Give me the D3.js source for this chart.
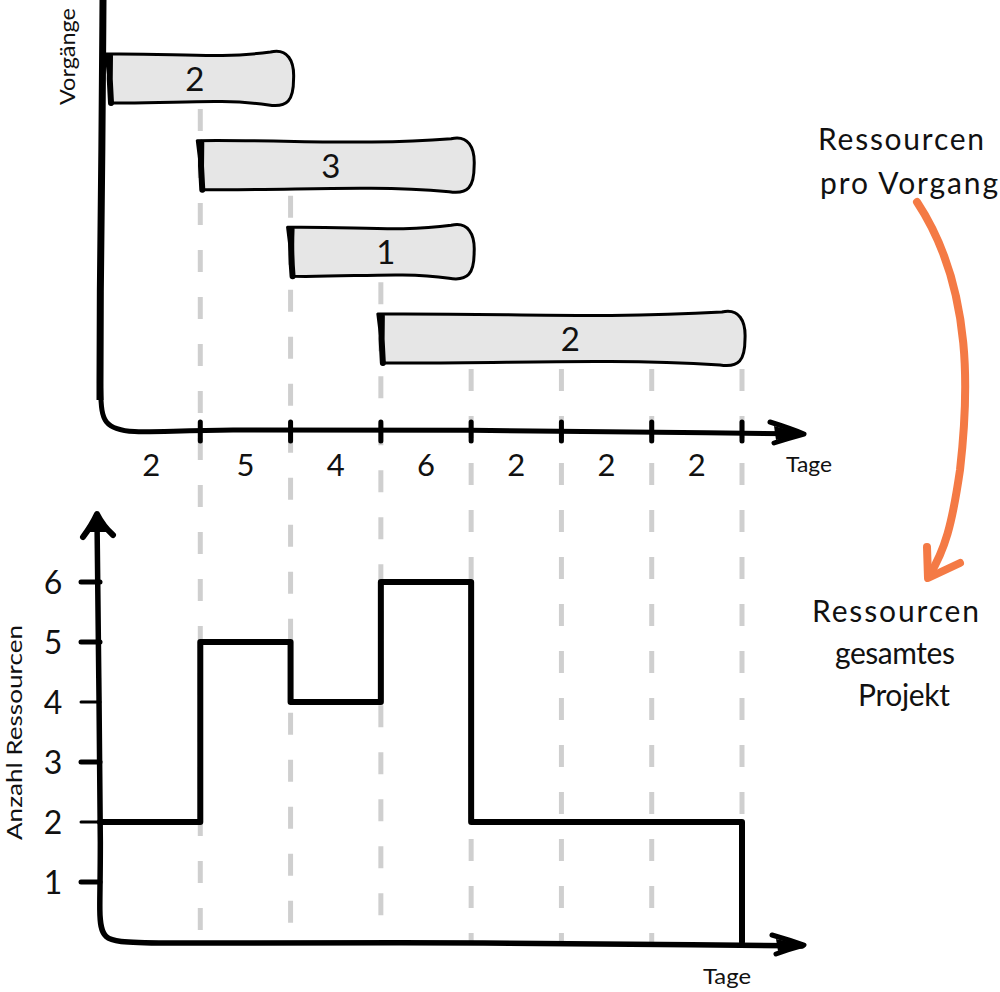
<!DOCTYPE html>
<html><head><meta charset="utf-8">
<script src="https://cdn.jsdelivr.net/npm/d3@7"></script>
<style>
html,body{margin:0;padding:0;background:#fff;}
svg{display:block;}
text{font-family:Lato,"Open Sans",sans-serif;fill:#111;}
</style></head>
<body>
<svg id="c" width="1000" height="992"></svg>
<script>
// ---- data ----
const tasks = ["A","B","C","D"];
const taskStart = [0,1,2,3];
const taskEnd = [2,4,4,7];
const taskRes = [2,3,1,2];
const periods = [0,1,2,3,4,5,6];
const totals = [2,5,4,6,2,2,2];
const yTicks = [1,2,3,4,5,6];
const labelTopY = "Vorgänge";
const labelBottomY = "Anzahl Ressourcen";
const labelX = "Tage";
const noteTop = ["Ressourcen","pro Vorgang"];
const noteBottom = ["Ressourcen","gesamtes","Projekt"];

// ---- layout ----
const svg = d3.select("#c");
const x = d3.scaleLinear().domain([0,7]).range([110,742]);
const row = d3.scalePoint().domain(tasks).range([79,339]);
const barH = 52;
const topAxisY = 432;
const yB = d3.scaleLinear().domain([0,6]).range([942,582]);
const leftTop = 101, leftBot = 100;

// ---- dashed guide lines ----
const bounds = d3.range(1,8);
const guides = svg.append("g");
bounds.forEach(t=>{
  let lowest = -1;
  tasks.forEach((k,i)=>{ if(taskStart[i] < t && t <= taskEnd[i]) lowest = i; });
  const y0 = row(tasks[lowest]) + barH/2 + 4;
  guides.append("line")
    .attr("x1",x(t)).attr("x2",x(t))
    .attr("y1",y0).attr("y2",yB(0))
    .attr("stroke","#cfcfcf").attr("stroke-width",5)
    .attr("stroke-dasharray","22 25");
});

// ---- top axes ----
const line = d3.line().curve(d3.curveBasis);
svg.append("path")
  .attr("d", line([[leftTop+2,0],[leftTop+1,150],[leftTop-1,300],[leftTop-1,400],[leftTop+2,424],[leftTop+25,topAxisY+2],[x(1),topAxisY-3],[x(4),topAxisY-2],[x(7),topAxisY+1],[x(7)+60,topAxisY+2]]))
  .attr("fill","none").attr("stroke","#000").attr("stroke-width",5).attr("stroke-linecap","round");
svg.append("path")
  .attr("d", line([[leftTop+2,0],[leftTop+1,150],[leftTop-1,300],[leftTop-1,400]]))
  .attr("fill","none").attr("stroke","#000").attr("stroke-width",7);
const ax = x(7)+62;
svg.append("path")
  .attr("d",`M${ax-34},${topAxisY-10} Q${ax-15},${topAxisY-4} ${ax},${topAxisY+2} Q${ax-15},${topAxisY+6} ${ax-30},${topAxisY+11}`)
  .attr("fill","none").attr("stroke","#000").attr("stroke-width",5).attr("stroke-linecap","round").attr("stroke-linejoin","round");
svg.append("path")
  .attr("d",`M${ax-30},${topAxisY-6} L${ax},${topAxisY+2} L${ax-28},${topAxisY+8} Z`).attr("fill","#000");
svg.append("g").selectAll("line").data(bounds).join("line")
  .attr("x1",d=>x(d)).attr("x2",d=>x(d))
  .attr("y1",topAxisY-10).attr("y2",topAxisY+9)
  .attr("stroke","#000").attr("stroke-width",5).attr("stroke-linecap","round");
svg.append("g").selectAll("text").data(periods).join("text")
  .attr("x",d=>x(d+0.5)+(d===0?-4:0)).attr("y",topAxisY+44)
  .attr("text-anchor","middle").attr("font-size",31)
  .text(d=>totals[d]);
svg.append("text").attr("x",786).attr("y",topAxisY+40)
  .attr("font-size",22).attr("textLength",46).attr("lengthAdjust","spacingAndGlyphs").text(labelX);
svg.append("text").attr("transform",`translate(75,105) rotate(-90)`)
  .attr("font-size",21).attr("textLength",97).attr("lengthAdjust","spacingAndGlyphs").text(labelTopY);

// ---- bars ----
const bars = svg.append("g");
tasks.forEach((k,i)=>{
  const x0 = x(taskStart[i]) + (i===0?-1:0), x1 = x(taskEnd[i]) + 2;
  const yc = row(k), y0 = yc - barH/2, y1 = yc + barH/2;
  const w = x1 - x0;
  const p = d3.path();
  p.moveTo(x0-3, y0+1);
  p.bezierCurveTo(x0+w*0.35, y0, x0+w*0.6, y0+6, x1-22, y0-1);
  p.bezierCurveTo(x1-5, y0-5, x1+2, y0+8, x1+1, yc);
  p.bezierCurveTo(x1+1, y1-5, x1-5, y1+3, x1-24, y1);
  p.bezierCurveTo(x0+w*0.6, y1-7, x0+w*0.35, y1-1, x0+3, y1-2);
  p.closePath();
  bars.append("path").attr("d",p.toString())
    .attr("fill","#e6e6e6").attr("stroke","#000").attr("stroke-width",3).attr("stroke-linejoin","round");
  bars.append("path").attr("d",`M${x0+1},${y0+3} Q${x0},${yc} ${x0+2},${y1-2}`)
    .attr("fill","none").attr("stroke","#000").attr("stroke-width",6).attr("stroke-linecap","round");
  bars.append("text").attr("x",(x0+x1)/2 - (i===0?6:(i===1?6:(i===2?-4:-8)))).attr("y",yc+12)
    .attr("text-anchor","middle").attr("font-size",33).text(taskRes[i]);
});

// ---- bottom chart ----
const botAxisY = yB(0)+2;
svg.append("path")
  .attr("d", line([[leftBot-3,518],[leftBot-1,700],[leftBot+1,860],[leftBot-1,915],[leftBot+2,botAxisY-4],[leftBot+30,botAxisY],[x(3),botAxisY-2],[x(7),botAxisY+1],[x(7)+60,botAxisY+2]]))
  .attr("fill","none").attr("stroke","#000").attr("stroke-width",5.5).attr("stroke-linecap","round");
svg.append("path")
  .attr("d",`M${leftBot-17},${537} Q${leftBot-8},${525} ${leftBot-3},${514} Q${leftBot+3},${526} ${leftBot+13},${535}`)
  .attr("fill","none").attr("stroke","#000").attr("stroke-width",6).attr("stroke-linecap","round").attr("stroke-linejoin","round");
svg.append("path")
  .attr("d",`M${leftBot-12},${532} L${leftBot-3},${514} L${leftBot+8},${532} Z`).attr("fill","#000");
const bx = x(7)+62;
svg.append("path")
  .attr("d",`M${bx-32},${botAxisY-9} Q${bx-15},${botAxisY-4} ${bx},${botAxisY+1} Q${bx-15},${botAxisY+5} ${bx-28},${botAxisY+10}`)
  .attr("fill","none").attr("stroke","#000").attr("stroke-width",5).attr("stroke-linecap","round").attr("stroke-linejoin","round");
svg.append("path")
  .attr("d",`M${bx-28},${botAxisY-5} L${bx},${botAxisY+1} L${bx-26},${botAxisY+7} Z`).attr("fill","#000");
svg.append("g").selectAll("line").data(yTicks).join("line")
  .attr("x1",leftBot-19).attr("x2",leftBot)
  .attr("y1",d=>yB(d)).attr("y2",d=>yB(d))
  .attr("stroke","#000").attr("stroke-width",d=>(d===2||d===4)?3:5).attr("stroke-linecap","round");
svg.append("g").selectAll("text").data(yTicks).join("text")
  .attr("x",leftBot-47).attr("y",d=>yB(d)+12)
  .attr("text-anchor","middle").attr("font-size",32).text(d=>d);
svg.append("text").attr("transform",`translate(22,840) rotate(-90)`)
  .attr("font-size",21).attr("textLength",215).attr("lengthAdjust","spacingAndGlyphs").text(labelBottomY);
svg.append("text").attr("x",703).attr("y",984)
  .attr("font-size",22).attr("textLength",48).attr("lengthAdjust","spacingAndGlyphs").text(labelX);

// step line
const stepData = periods.map(p=>[p,totals[p]]).concat([[7,totals[6]],[7,0]]);
const step = d3.line()
  .x((d,i)=> i===0 ? leftBot : x(d[0]))
  .y(d=>yB(d[1]))
  .curve(d3.curveStepAfter);
svg.append("path").attr("d",step(stepData))
  .attr("fill","none").attr("stroke","#000").attr("stroke-width",6)
  .attr("stroke-linejoin","round").attr("stroke-linecap","round");

// ---- annotations ----
svg.append("g").selectAll("text").data(noteTop).join("text")
  .attr("x",(d,i)=>i===0?818:820).attr("y",(d,i)=>150+i*44)
  .attr("font-size",30).attr("textLength",(d,i)=>i===0?166:178).attr("lengthAdjust","spacing")
  .text(d=>d);
svg.append("g").selectAll("text").data(noteBottom).join("text")
  .attr("x",(d,i)=>[812,835,858][i]).attr("y",(d,i)=>622+i*42)
  .attr("font-size",30).attr("textLength",(d,i)=>[167,120,92][i]).attr("lengthAdjust","spacing")
  .text(d=>d);
svg.append("path")
  .attr("d","M917,202 C975,290 968,400 960,470 C952,525 945,550 929,576")
  .attr("fill","none").attr("stroke","#f47a45").attr("stroke-width",8).attr("stroke-linecap","round");
svg.append("path")
  .attr("d","M927,547 L928,578 L960,563")
  .attr("fill","none").attr("stroke","#f47a45").attr("stroke-width",8).attr("stroke-linecap","round").attr("stroke-linejoin","round");
</script>
</body></html>
